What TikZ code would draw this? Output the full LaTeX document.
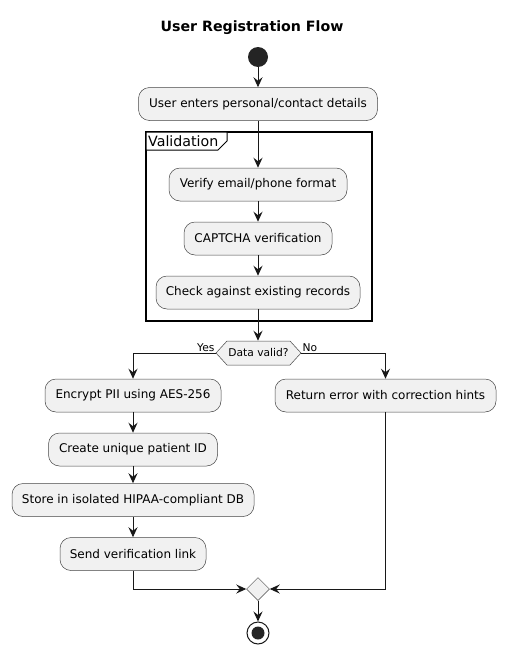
\documentclass[tikz,border=0pt]{standalone}
\usepackage{fontspec}
\setmainfont{DejaVu Sans}
\usetikzlibrary{arrows.meta,shapes.geometric,shapes.symbols}
\definecolor{boxfill}{HTML}{F1F1F1}
\definecolor{ln}{HTML}{181818}
\begin{document}
\begin{tikzpicture}[x=1pt,y=-1pt,
  act/.style={draw=ln!80, line width=0.5pt, fill=boxfill, rounded corners=11pt, minimum height=33pt, inner sep=0pt, font=\fontsize{12}{14}\selectfont, text=black},
  conn/.style={draw=ln, line width=1pt, -{Stealth[length=10pt,width=9pt,inset=3.5pt]}},
  lbl/.style={font=\fontsize{10.7}{12}\selectfont, text=black, inner sep=0pt}
]
\useasboundingbox (0,0) rectangle (505,653);
\node[font=\bfseries\fontsize{14.2}{16}\selectfont] (title) at (252,28) {User Registration Flow};
\node[circle, fill=ln!95, minimum size=20pt, inner sep=0pt] (start) at (258,57) {};
\node[act, minimum width=239pt] (b1) at (258,104) {User enters personal/contact details};
% frame
\draw[line width=1.5pt, draw=black] (146,132) rectangle (372,321);
\draw[line width=1pt, draw=black, fill=white] (146,132) -- (227,132) -- (227,141) -- (218,150) -- (146,150) -- cycle;
\node[anchor=west, font=\fontsize{14.2}{16}\selectfont, inner sep=0pt] (frlbl) at (148,141) {Validation};
\node[act, minimum width=178pt] (ver) at (258,184.5) {Verify email/phone format};
\node[act, minimum width=148pt] (cap) at (258,238.5) {CAPTCHA verification};
\node[act, minimum width=204pt] (chk) at (258,292.5) {Check against existing records};
\node[signal, signal to=west and east, signal pointer angle=95, draw=ln!80, line width=0.5pt, fill=boxfill, minimum width=85pt, minimum height=24pt, inner sep=1pt, font=\fontsize{10.7}{12}\selectfont] (dec) at (258.5,353) {Data valid?};
\node[act, minimum width=176pt] (enc) at (133,395.5) {Encrypt PII using AES-256};
\node[act, minimum width=169pt] (cre) at (133,449.5) {Create unique patient ID};
\node[act, minimum width=242pt] (sto) at (133,500) {Store in isolated HIPAA-compliant DB};
\node[act, minimum width=146pt] (snd) at (133,554) {Send verification link};
\node[act, minimum width=221pt] (ret) at (385.5,395.5) {Return error with correction hints};
\node[diamond, draw=ln!80, line width=0.5pt, fill=boxfill, minimum width=23pt, minimum height=23pt, inner sep=0pt] (mrg) at (258,589) {};
\node[circle, draw=ln, line width=1pt, fill=white, minimum size=22pt, inner sep=0pt] (stop) at (258,633) {};
\node[circle, fill=ln!95, minimum size=13pt, inner sep=0pt] (stopin) at (stop.center) {};
% connectors
\draw[conn] (start) -- (b1);
\draw[conn] (b1) -- (ver);
\draw[conn] (ver) -- (cap);
\draw[conn] (cap) -- (chk);
\draw[conn] (chk) -- (chk.south |- dec.north);
\draw[conn] (dec.west) -| (enc.north);
\draw[conn] (dec.east) -| (ret.north);
\node[lbl, anchor=south east] (yes) at ([xshift=-1pt,yshift=1pt]dec.west) {Yes};
\node[lbl, anchor=south west] (no) at ([xshift=1pt,yshift=1pt]dec.east) {No};
\draw[conn] (enc) -- (cre);
\draw[conn] (cre) -- (sto);
\draw[conn] (sto) -- (snd);
\draw[conn] (snd.south) |- (mrg.west);
\draw[conn] (ret.south) |- (mrg.east);
\draw[conn] (mrg) -- (stop);
\end{tikzpicture}
\end{document}
